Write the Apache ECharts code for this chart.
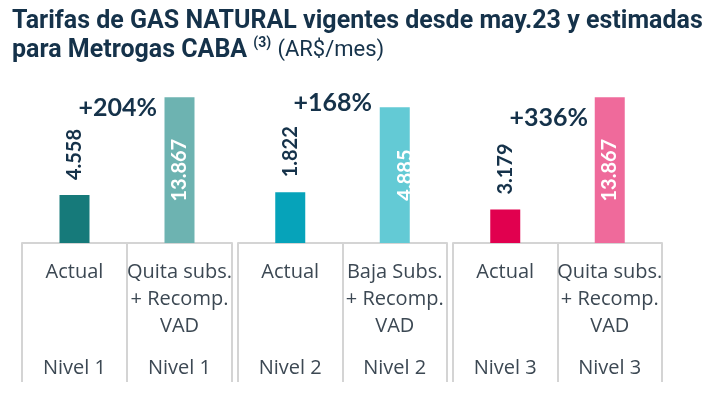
<!DOCTYPE html>
<html><head><meta charset="utf-8">
<script src="https://cdn.jsdelivr.net/npm/echarts@6/dist/echarts.min.js"></script>
<style>html,body{margin:0;padding:0;background:#fff}#c{width:722px;height:395px}</style>
</head><body><div id="c"></div><script>
// ---- data ----
const levels = ['Nivel 1', 'Nivel 2', 'Nivel 3'];
const categoriesN1 = ['Actual', 'Quita subs.\n+ Recomp.\nVAD'];
const categoriesN2 = ['Actual', 'Baja Subs.\n+ Recomp.\nVAD'];
const categoriesN3 = ['Actual', 'Quita subs.\n+ Recomp.\nVAD'];
const actualValues = [4558, 1822, 3179];
const estimatedValues = [13867, 4885, 13867];
const increases = ['+204%', '+168%', '+336%'];

// ---- layout / style ----
const categories = [categoriesN1, categoriesN2, categoriesN3];
const gridBoxes = [{left: 22, width: 210}, {left: 238, width: 209}, {left: 453, width: 209}];
const yMax = [13900, 5250, 13900];
const actualColors = ['#167a7a', '#06a3ba', '#e1004f'];
const estColors = ['#6db3b1', '#63cad5', '#ef6a9b'];
const navy = '#15324a';
const gray = '#3c4853';
const lineGray = '#d4d4d4';

function fmt(v) { return String(v).replace(/\B(?=(\d{3})+(?!\d))/g, '.'); }

const grids = [], xAxes = [], yAxes = [], series = [];
for (let i = 0; i < 3; i++) {
  grids.push({left: gridBoxes[i].left, width: gridBoxes[i].width, top: 97, height: 146});
  xAxes.push({
    gridIndex: i, type: 'category', data: categories[i], position: 'bottom',
    axisLine: {show: true, lineStyle: {color: lineGray, width: 2}},
    axisTick: {show: true, length: 139, lineStyle: {color: lineGray, width: 2}},
    axisLabel: {margin: 16, fontSize: 20, lineHeight: 27, color: gray, fontFamily: 'Open Sans', interval: 0},
    splitLine: {show: false}
  });
  xAxes.push({
    gridIndex: i, type: 'category', data: [levels[i], levels[i]], position: 'bottom',
    axisLine: {show: false}, axisTick: {show: false},
    axisLabel: {margin: 112, fontSize: 20, lineHeight: 27, color: gray, fontFamily: 'Open Sans', interval: 0},
    splitLine: {show: false}
  });
  yAxes.push({gridIndex: i, type: 'value', min: 0, max: yMax[i], show: false});
  const outsideLabel = {show: true, position: 'top', distance: 15, rotate: 90, align: 'left', verticalAlign: 'middle',
    color: navy, fontFamily: 'Lato', fontWeight: 'bold', fontSize: 20, formatter: p => fmt(p.value)};
  const insideLabel = {show: true, position: 'inside', rotate: 90, align: 'center', verticalAlign: 'middle',
    color: '#ffffff', fontFamily: 'Lato', fontWeight: 'bold', fontSize: 20, formatter: p => fmt(p.value),
    offset: i === 1 ? [0, 11] : [0, 0]};
  series.push({
    type: 'bar', xAxisIndex: 2 * i, yAxisIndex: i, barWidth: 30, silent: true,
    data: [
      {value: actualValues[i], itemStyle: {color: actualColors[i]}, label: outsideLabel},
      {value: estimatedValues[i], itemStyle: {color: estColors[i]}, label: insideLabel}
    ]
  });
}

const pctPos = [[157, 108], [372, 103], [588, 118]];
const graphics = increases.map((t, i) => ({
  type: 'text', x: pctPos[i][0], y: pctPos[i][1], silent: true,
  style: {text: t, font: 'bold 25px Lato', fill: navy, align: 'right', verticalAlign: 'middle'}
}));

const chart = echarts.init(document.getElementById('c'), null, {renderer: 'canvas'});
chart.setOption({
  animation: false,
  backgroundColor: '#ffffff',
  title: {
    left: 12, top: 7, padding: [0, 0, 0, 0],
    text: 'Tarifas de GAS NATURAL vigentes desde may.23 y estimadas\npara Metrogas CABA {s|(3)} {n|(AR$/mes)}',
    textStyle: {
      color: navy, fontFamily: 'Roboto', fontWeight: 'bold', fontSize: 25, lineHeight: 29,
      rich: {
        s: {color: navy, fontFamily: 'Roboto', fontWeight: 'bold', fontSize: 14, lineHeight: 29, verticalAlign: 'top', padding: [0, 0, 0, 0]},
        n: {color: navy, fontFamily: 'Roboto', fontWeight: 'normal', fontSize: 22, lineHeight: 29}
      }
    }
  },
  grid: grids, xAxis: xAxes, yAxis: yAxes, series: series,
  graphic: graphics
});
</script></body></html>
